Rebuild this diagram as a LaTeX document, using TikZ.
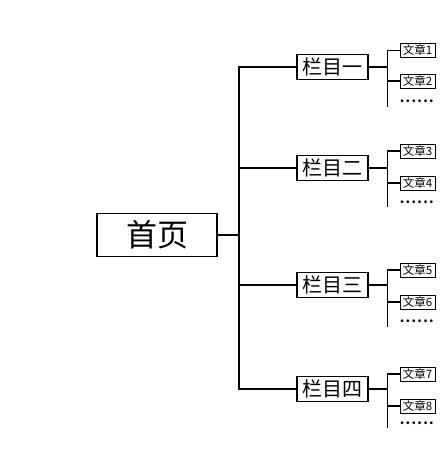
\documentclass[tikz,border=0pt]{standalone}
\usepackage{fontspec}
\setmainfont{Noto Sans CJK SC}
\usepackage{tikz}
\usetikzlibrary{positioning}

\begin{document}
\begin{tikzpicture}[
    x=1pt, y=-1pt,
    homebox/.style={
      rectangle, draw=black, line width=1.3pt,
      minimum width=120pt, minimum height=43pt,
      inner sep=0pt, font=\fontsize{31}{31}\selectfont
    },
    colbox/.style={
      rectangle, draw=black, line width=1.2pt,
      minimum width=71pt, minimum height=25pt,
      inner sep=0pt, font=\fontsize{20}{20}\selectfont
    },
    artbox/.style={
      rectangle, draw=black, line width=1pt,
      minimum width=35pt, minimum height=14pt,
      inner sep=0pt, font=\fontsize{11.5}{11.5}\selectfont
    },
    more/.style={inner sep=0pt,
      font=\bfseries\fontsize{13}{13}\selectfont\addfontfeatures{LetterSpace=10}},
    conn/.style={line width=1.3pt},
    node distance=31pt
  ]
  \useasboundingbox (0,0) rectangle (440,458);

  % home page
  \node[homebox] (home) at (157,235) {首页};
  \coordinate (trunk) at (239,235);

  % columns
  \node[colbox] (c1) at (332.5,67)  {栏目一};
  \node[colbox] (c2) at (332.5,168) {栏目二};
  \node[colbox] (c3) at (332.5,285) {栏目三};
  \node[colbox] (c4) at (332.5,389) {栏目四};

  % articles
  \node[artbox, right=of c1, yshift=16.5pt] (a1) {文章1};
  \node[artbox, right=of c1, yshift=-14pt]  (a2) {文章2};
  \node[more, right=of c1, yshift=-34pt]    (m1) {......};
  \node[artbox, right=of c2, yshift=17pt]   (a3) {文章3};
  \node[artbox, right=of c2, yshift=-15pt]  (a4) {文章4};
  \node[more, right=of c2, yshift=-34pt]    (m2) {......};
  \node[artbox, right=of c3, yshift=15pt]   (a5) {文章5};
  \node[artbox, right=of c3, yshift=-17pt]  (a6) {文章6};
  \node[more, right=of c3, yshift=-36pt]    (m3) {......};
  \node[artbox, right=of c4, yshift=15pt]   (a7) {文章7};
  \node[artbox, right=of c4, yshift=-17pt]  (a8) {文章8};
  \node[more, right=of c4, yshift=-34pt]    (m4) {......};

  % sub-trunk ends
  \coordinate[right=19pt of c1] (s1);
  \coordinate[below=40pt of s1] (s1e);
  \coordinate[right=19pt of c2] (s2);
  \coordinate[below=39pt of s2] (s2e);
  \coordinate[right=19pt of c3] (s3);
  \coordinate[below=42pt of s3] (s3e);
  \coordinate[right=19pt of c4] (s4);
  \coordinate[below=39pt of s4] (s4e);

  \draw[conn] (home.east) -- (trunk);
  \draw[conn] (c1.west) -| (trunk) |- (c4.west);
  \draw[conn] (c2.west) -| (trunk);
  \draw[conn] (c3.west) -| (trunk);

  \draw[conn] (c1.east) -- (s1);
  \draw[conn] (a1.west) -| (s1e);
  \draw[conn] (a2.west) -| (s1e);
  \draw[conn] (c2.east) -- (s2);
  \draw[conn] (a3.west) -| (s2e);
  \draw[conn] (a4.west) -| (s2e);
  \draw[conn] (c3.east) -- (s3);
  \draw[conn] (a5.west) -| (s3e);
  \draw[conn] (a6.west) -| (s3e);
  \draw[conn] (c4.east) -- (s4);
  \draw[conn] (a7.west) -| (s4e);
  \draw[conn] (a8.west) -| (s4e);
\end{tikzpicture}
\end{document}
